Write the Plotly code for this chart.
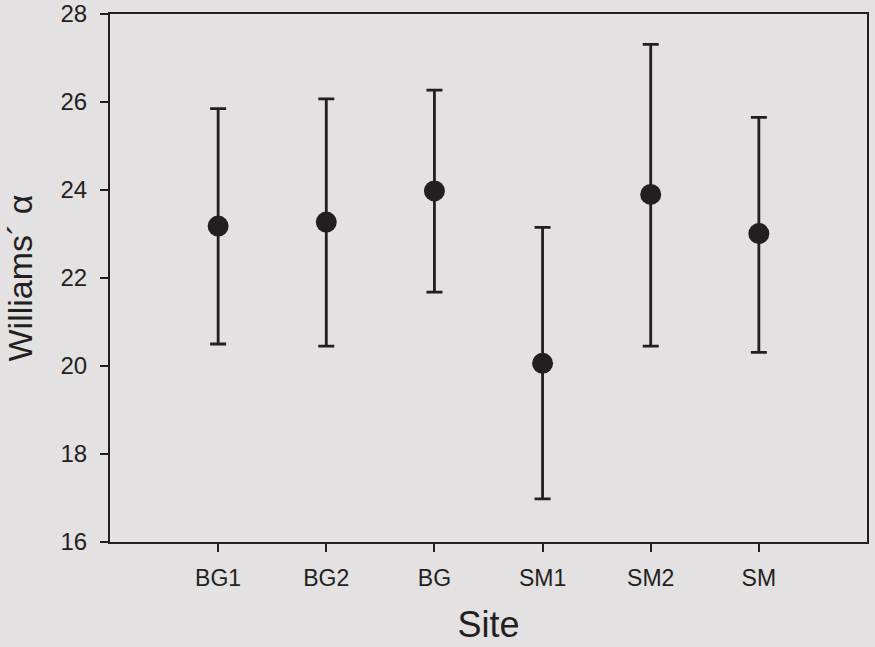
import plotly.graph_objects as go

sites = ["BG1", "BG2", "BG", "SM1", "SM2", "SM"]
alpha_mean = [23.18, 23.27, 23.98, 20.06, 23.90, 23.01]
alpha_upper = [25.85, 26.07, 26.27, 23.15, 27.31, 25.65]
alpha_lower = [20.50, 20.45, 21.68, 16.98, 20.45, 20.31]
y_ticks = [16, 18, 20, 22, 24, 26, 28]

err_plus = [u - m for u, m in zip(alpha_upper, alpha_mean)]
err_minus = [m - l for m, l in zip(alpha_mean, alpha_lower)]

ink = "#231f20"
bg = "#e3e1e2"
font_family = "Liberation Sans, Arial, Helvetica, sans-serif"

fig = go.Figure()
fig.add_trace(go.Scatter(
    x=list(range(len(sites))),
    y=alpha_mean,
    mode="markers",
    marker=dict(size=21, color=ink),
    error_y=dict(type="data", symmetric=False, array=err_plus, arrayminus=err_minus,
                 color=ink, thickness=2.8, width=8),
    showlegend=False,
))

fig.update_layout(
    width=875, height=647,
    margin=dict(l=110, r=8, t=14, b=105),
    paper_bgcolor=bg, plot_bgcolor=bg,
    font=dict(family=font_family, color=ink, size=24),
)
fig.update_xaxes(
    range=[-1, 6], automargin=False,
    tickmode="array", tickvals=list(range(len(sites))), ticktext=sites,
    ticks="outside", ticklen=8, tickwidth=1.5, tickcolor=ink,
    showline=True, linecolor=ink, linewidth=2, mirror=True,
    showgrid=False, zeroline=False,
    tickfont=dict(size=23),
    ticklabelstandoff=6,
    title=dict(text="Site", font=dict(size=36), standoff=22),
)
fig.update_yaxes(
    range=[16, 28], automargin=False,
    tickmode="array", tickvals=y_ticks,
    ticks="outside", ticklen=8, tickwidth=1.5, tickcolor=ink,
    showline=True, linecolor=ink, linewidth=2, mirror=True,
    showgrid=False, zeroline=False,
    tickfont=dict(size=24),
    ticklabelstandoff=8,
    title=dict(text="Williams´ α", font=dict(size=34), standoff=18),
)

fig.write_html("out.html")
